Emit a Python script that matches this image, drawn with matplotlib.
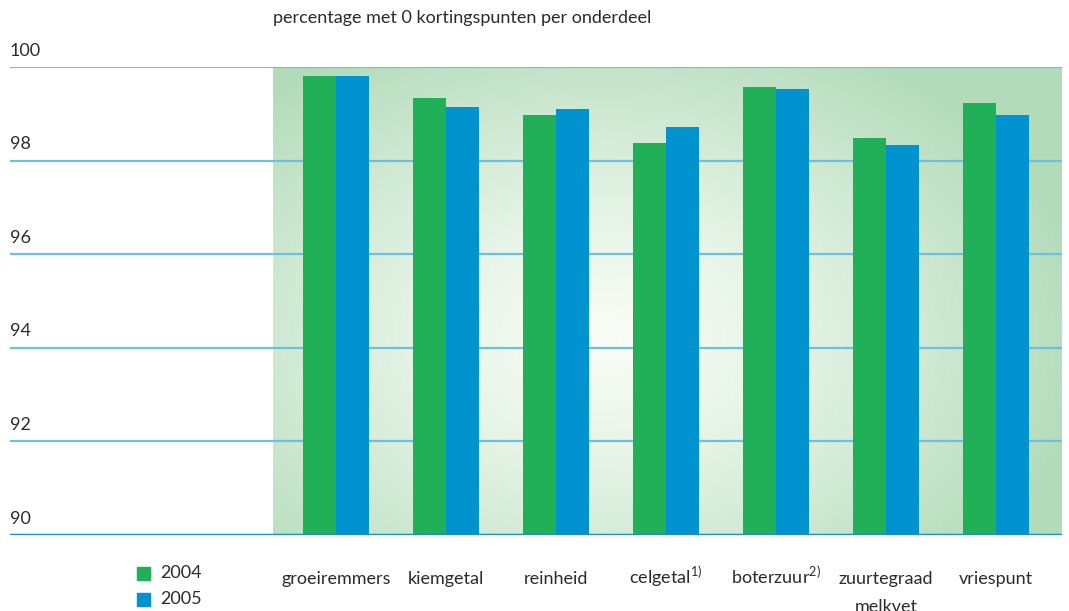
import matplotlib.pyplot as plt
import matplotlib.patches as mpatches
import matplotlib.transforms as mtransforms
import numpy as np

categories = ['groeiremmers', 'kiemgetal', 'reinheid', r'celgetal$^{\mathregular{1)}}$',
              r'boterzuur$^{\mathregular{2)}}$', 'zuurtegraad\nmelkvet', 'vriespunt']
v2004 = [99.81, 99.34, 98.97, 98.38, 99.57, 98.48, 99.23]
v2005 = [99.81, 99.15, 99.10, 98.72, 99.53, 98.33, 98.97]
years = ['2004', '2005']
yticks = [90, 92, 94, 96, 98, 100]
title = 'percentage met 0 kortingspunten per onderdeel'

GREEN = '#21b057'
BLUE = '#0093cf'
GRID = '#6ec0e0'
TXT = '#2b2b2b'

plt.rcParams['font.family'] = ['Lato', 'DejaVu Sans']

fig = plt.figure(figsize=(10.69, 6.11), dpi=100)
W, H = 1069, 611
ax = fig.add_axes([10 / W, 76 / H, (1062 - 10) / W, (535 - 67) / H])

x = np.arange(len(categories))
bw = 0.3
xl, xr = (10 - 336) / 110, (1062 - 336) / 110
shade_left = (273 - 336) / 110
ax.set_xlim(xl, xr)
ax.set_ylim(90, 100)

# radial-ish gradient background behind the bars
nx, ny = 400, 200
gx = np.linspace(0, 1, nx)
gy = np.linspace(0, 1, ny)
GX, GY = np.meshgrid(gx, gy)
r = np.sqrt(((GX - 0.42) / 0.62) ** 2 + ((GY - 0.42) / 0.72) ** 2)
t = np.clip(r, 0, 1) ** 1.3
c_in = np.array([0.975, 0.99, 0.965])
c_out = np.array([0.70, 0.86, 0.73])
img = c_in[None, None, :] * (1 - t[..., None]) + c_out[None, None, :] * t[..., None]
ax.imshow(img, extent=[shade_left, xr, 90, 100], origin='lower', aspect='auto', zorder=0)

for yv in yticks[1:]:
    ax.axhline(yv, color=GRID, lw=1.6, zorder=1)
for yv in yticks:
    ax.text(xl, yv + 0.18, str(yv), ha='left', va='bottom', fontsize=13, color=TXT)
ax.axhline(90, color='#1a8fd0', lw=2.5, zorder=4)

ax.bar(x - bw / 2, v2004, bw, color=GREEN, zorder=3)
ax.bar(x + bw / 2, v2005, bw, color=BLUE, zorder=3)

for s in ax.spines.values():
    s.set_visible(False)
ax.set_xticks([])
ax.set_yticks([])

# category labels, baseline aligned, one text per line
trans = mtransforms.blended_transform_factory(ax.transData, fig.transFigure)
for xi, lab in zip(x, categories):
    for j, line in enumerate(lab.split('\n')):
        ax.text(xi, 1 - (584 + 28 * j) / H, line, transform=trans, ha='center',
                va='baseline', fontsize=13, color=TXT, clip_on=False)

fig.text(273 / W, 1 - 18 / H, title, ha='left', va='center', fontsize=13, color=TXT)

# legend
for i, (yr, col) in enumerate(zip(years, [GREEN, BLUE])):
    ytop = 567 + i * 26
    fig.patches.append(mpatches.Rectangle((137 / W, 1 - (ytop + 13) / H), 13 / W, 13 / H,
                                          transform=fig.transFigure, color=col))
    fig.text(160 / W, 1 - (ytop + 6.5) / H, yr, ha='left', va='center', fontsize=13, color=TXT)

fig.savefig('out.png', dpi=100)
